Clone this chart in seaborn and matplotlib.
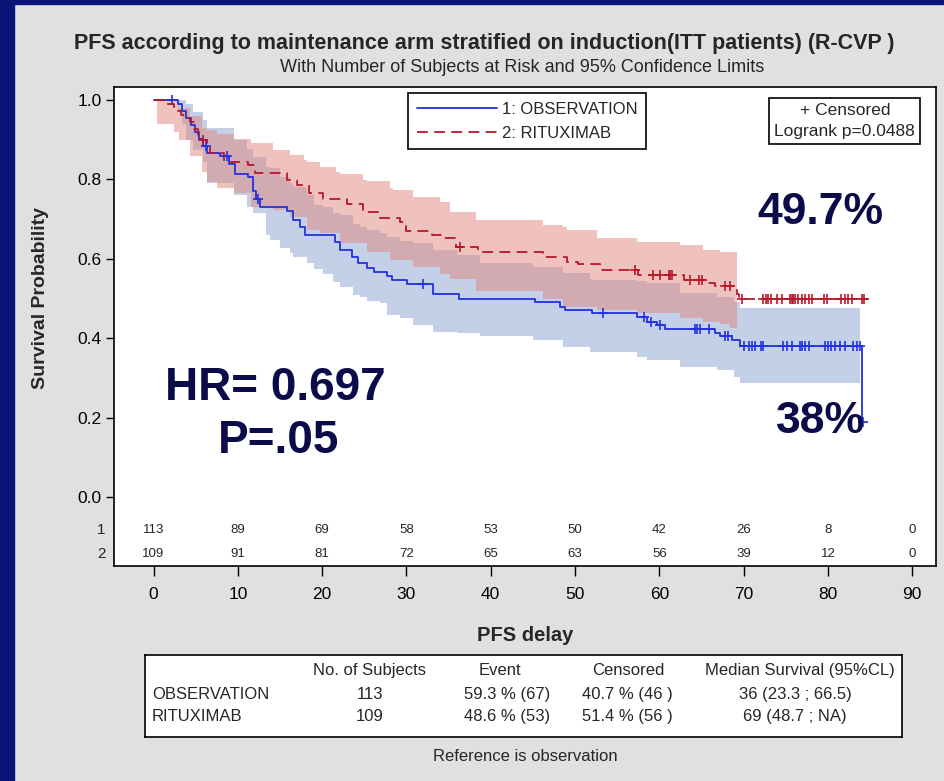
import numpy as np
import matplotlib
matplotlib.use("Agg")
import matplotlib.pyplot as plt
import seaborn as sns
from matplotlib.patches import Rectangle

# ---- data ----
obs_time = [0, 2.9, 3.4, 3.9, 4.4, 4.9, 5.4, 5.9, 6.3, 7.9, 8.9, 9.7, 11.2, 11.8, 12.2, 12.6,
            15.8, 16.6, 17.4, 18.0, 21.5, 22.1, 23.5, 24.3, 25.3, 26.1, 27.7, 28.3, 30.1, 33.2,
            36.2, 45.3, 48.2, 48.8, 52.0, 57.3, 58.5, 59.7, 60.7, 66.6, 67.2, 68.6, 69.6, 84.0, 84.3]
obs_surv = [1.0, 0.991, 0.973, 0.956, 0.938, 0.920, 0.902, 0.885, 0.867, 0.858, 0.840, 0.815, 0.806,
            0.770, 0.752, 0.730, 0.720, 0.699, 0.681, 0.660, 0.643, 0.622, 0.605, 0.590, 0.577, 0.568,
            0.558, 0.547, 0.537, 0.511, 0.500, 0.492, 0.479, 0.471, 0.463, 0.454, 0.442, 0.433, 0.422,
            0.413, 0.405, 0.396, 0.381, 0.190, 0.190]
obs_cens = [2.2, 6.2, 8.7, 12.4, 32.0, 53.3, 58.2, 59.0, 60.1, 64.2, 64.5, 64.8, 65.9, 67.8, 68.2,
            70.0, 70.6, 71.0, 71.4, 72.1, 72.3, 74.7, 75.1, 75.7, 76.7, 76.9, 77.3, 77.7, 79.7, 80.0,
            80.4, 80.8, 81.4, 82.0, 83.0, 83.4, 83.8, 84.2]

rit_time = [0, 1.6, 2.4, 2.9, 3.3, 3.8, 4.3, 4.8, 5.3, 5.8, 6.3, 6.7, 8.3, 11.2, 12.0, 15.8, 17.0,
            18.4, 20.1, 22.9, 24.9, 26.9, 29.2, 30.0, 33.0, 34.4, 35.9, 38.5, 46.2, 49.0, 50.4, 53.0,
            57.5, 62.9, 65.4, 66.6, 68.8, 69.2, 69.5, 84.8]
rit_surv = [1.0, 0.991, 0.982, 0.972, 0.963, 0.954, 0.945, 0.927, 0.909, 0.900, 0.881, 0.866, 0.845,
            0.836, 0.816, 0.798, 0.786, 0.765, 0.751, 0.739, 0.719, 0.704, 0.693, 0.670, 0.661, 0.652,
            0.631, 0.618, 0.605, 0.593, 0.588, 0.572, 0.559, 0.547, 0.538, 0.531, 0.522, 0.511, 0.500,
            0.500]
rit_cens = [5.9, 36.3, 57.1, 59.3, 60.1, 61.1, 61.3, 61.5, 63.6, 64.7, 65.1, 67.8, 68.4, 69.8,
            72.3, 72.7, 72.9, 73.3, 73.9, 74.5, 75.5, 75.7, 75.9, 76.1, 76.5, 76.9, 77.3, 77.7, 78.1,
            79.5, 79.9, 81.6, 82.0, 82.4, 82.8, 84.1, 84.3]

# 95% confidence limits (step functions)
obs_ci_t = [2.9, 3.4, 3.9, 4.7, 5.9, 6.3, 9.5, 11.1, 11.8, 13.4, 13.8, 15.0, 16.2, 16.6, 18.2, 19.0,
            20.1, 21.3, 22.1, 23.7, 24.5, 25.3, 26.9, 27.7, 29.2, 30.8, 33.2, 36.0, 38.7, 45.0, 48.6,
            51.8, 52.0, 57.3, 58.5, 62.5, 66.8, 68.8, 69.6, 83.8]
obs_ci_lo = [0.975, 0.94, 0.90, 0.874, 0.845, 0.790, 0.761, 0.73, 0.715, 0.66, 0.647, 0.627, 0.614,
             0.605, 0.589, 0.575, 0.563, 0.542, 0.530, 0.51, 0.505, 0.495, 0.488, 0.458, 0.45, 0.433,
             0.416, 0.413, 0.405, 0.395, 0.379, 0.366, 0.366, 0.353, 0.345, 0.328, 0.32, 0.303, 0.288,
             0.288]
obs_ci_hi = [1.0, 1.0, 0.99, 0.97, 0.95, 0.93, 0.899, 0.878, 0.857, 0.832, 0.83, 0.807, 0.79, 0.782,
             0.761, 0.735, 0.73, 0.715, 0.71, 0.689, 0.68, 0.672, 0.665, 0.656, 0.645, 0.639, 0.622,
             0.61, 0.59, 0.58, 0.564, 0.55, 0.547, 0.545, 0.539, 0.514, 0.504, 0.49, 0.477, 0.477]

rit_ci_t = [0.4, 2.4, 3.0, 4.3, 5.7, 6.3, 7.5, 9.5, 11.6, 14.2, 16.2, 17.8, 18.2, 19.8, 21.7, 22.1,
            24.9, 25.3, 28.1, 28.4, 30.8, 34.0, 35.2, 38.3, 46.2, 48.6, 49.0, 52.6, 57.3, 62.5, 65.2,
            67.2, 68.4, 69.2]
rit_ci_lo = [0.941, 0.920, 0.899, 0.86, 0.82, 0.794, 0.778, 0.765, 0.731, 0.723, 0.706, 0.706, 0.672,
             0.664, 0.664, 0.639, 0.639, 0.618, 0.597, 0.597, 0.580, 0.563, 0.55, 0.52, 0.50, 0.479,
             0.479, 0.47, 0.463, 0.45, 0.44, 0.435, 0.426, 0.426]
rit_ci_hi = [1.0, 1.0, 0.98, 0.96, 0.929, 0.925, 0.915, 0.903, 0.891, 0.875, 0.862, 0.849, 0.845,
             0.832, 0.819, 0.815, 0.798, 0.795, 0.778, 0.773, 0.756, 0.744, 0.719, 0.698, 0.685, 0.68,
             0.673, 0.652, 0.643, 0.635, 0.622, 0.618, 0.618, 0.618]

risk_times = [0, 10, 20, 30, 40, 50, 60, 70, 80, 90]
obs_risk = [113, 89, 69, 58, 53, 50, 42, 26, 8, 0]
rit_risk = [109, 91, 81, 72, 65, 63, 56, 39, 12, 0]

tab_header = ["No. of Subjects", "Event", "Censored", "Median Survival (95%CL)"]
tab_rows = ["OBSERVATION", "RITUXIMAB"]
tab_values = [["113", "59.3 % (67)", "40.7 % (46 )", "36 (23.3 ; 66.5)"],
              ["109", "48.6 % (53)", "51.4 % (56 )", "69 (48.7 ; NA)"]]

BLUE = "#2232dc"
RED = "#b8182a"
NAVY = "#0b0b4a"


def at(times, surv, t):
    i = np.searchsorted(times, t, side="right") - 1
    return np.asarray(surv)[i]


sns.set_theme(style="white")
plt.rcParams["font.family"] = ["Liberation Sans", "DejaVu Sans"]

fig = plt.figure(figsize=(9.45, 7.81), dpi=100, facecolor="#e0e0e0")
# dark blue slide border
fig.patches.append(Rectangle((0, 0), 14 / 945, 1, transform=fig.transFigure, color="#0a1478", zorder=0))
fig.patches.append(Rectangle((0, 1 - 4 / 781), 1, 4 / 781, transform=fig.transFigure, color="#0a1478", zorder=0))

ax = fig.add_axes([114 / 945, 1 - 566 / 781, 822 / 945, 479 / 781])
ax.set_facecolor("white")

# confidence bands
ax.fill_between(obs_ci_t, obs_ci_lo, obs_ci_hi, step="post", color="#c4d0e8", lw=0, zorder=1)
ax.fill_between(rit_ci_t, rit_ci_lo, rit_ci_hi, step="post", color="#e0877e", alpha=0.5, lw=0, zorder=2)

# survival curves
sns.lineplot(x=obs_time, y=obs_surv, drawstyle="steps-post", color=BLUE, lw=1.3,
             estimator=None, sort=False, label="1: OBSERVATION", ax=ax, zorder=4)
sns.lineplot(x=rit_time, y=rit_surv, drawstyle="steps-post", color=RED, lw=1.3,
             linestyle=(0, (6, 3.5)), estimator=None, sort=False, label="2: RITUXIMAB", ax=ax, zorder=4)

# censored marks
sns.scatterplot(x=obs_cens, y=at(obs_time, obs_surv, obs_cens), marker="+", s=55, color=BLUE,
                linewidth=1.2, legend=False, ax=ax, zorder=5)
sns.scatterplot(x=rit_cens, y=at(rit_time, rit_surv, rit_cens), marker="+", s=55, color=RED,
                linewidth=1.2, legend=False, ax=ax, zorder=5)

ax.set_xlim(-4.69, 92.82)
ax.set_ylim(-0.174, 1.033)
ax.set_xticks(risk_times)
ax.set_yticks([0, 0.2, 0.4, 0.6, 0.8, 1.0])
ax.set_yticklabels([f"{v:.1f}" for v in [0, 0.2, 0.4, 0.6, 0.8, 1.0]])
ax.tick_params(axis="x", direction="out", length=7, width=1, labelsize=12.5, pad=8, colors="black",
               bottom=True)
ax.tick_params(axis="y", direction="out", length=6, width=1, labelsize=12.5, pad=3, colors="black",
               left=True)
for s in ax.spines.values():
    s.set_color("black")
    s.set_linewidth(1.2)

ax.set_xlabel("PFS delay", fontsize=14.5, fontweight="bold")
ax.xaxis.set_label_coords(0.5, -0.125)
ax.set_ylabel("Survival Probability", fontsize=14, fontweight="bold")
ax.yaxis.set_label_coords(-0.079, 0.56)

# number at risk inside the axes
for t, a, b in zip(risk_times, obs_risk, rit_risk):
    ax.text(t, -0.083, str(a), ha="center", va="center", fontsize=9.5)
    ax.text(t, -0.144, str(b), ha="center", va="center", fontsize=9.5)
trans = matplotlib.transforms.blended_transform_factory(ax.transAxes, ax.transData)
ax.text(-0.01, -0.083, "1", ha="right", va="center", fontsize=11, transform=trans)
ax.text(-0.01, -0.144, "2", ha="right", va="center", fontsize=11, transform=trans)

# legend
handles, labels = ax.get_legend_handles_labels()
leg = ax.legend(handles, labels, loc="upper left", bbox_to_anchor=(0.358, 0.987), fontsize=12,
                frameon=True, fancybox=False, edgecolor="black", framealpha=1, handlelength=4.8,
                handletextpad=0.3, borderpad=0.5, labelspacing=0.55, borderaxespad=0)
leg.get_frame().set_linewidth(1.2)
leg.set_zorder(10)

ax.text(0.889, 0.929, "+ Censored\nLogrank p=0.0488", transform=ax.transAxes, ha="center",
        va="center", fontsize=12.5, multialignment="center", linespacing=1.45, zorder=10,
        bbox=dict(boxstyle="square,pad=0.3", fc="white", ec="black", lw=1.2))

# big annotations
ax.text(14.4, 0.275, "HR= 0.697", ha="center", va="center", fontsize=33, fontweight="bold", color=NAVY, zorder=8)
ax.text(14.8, 0.142, "P=.05", ha="center", va="center", fontsize=33, fontweight="bold", color=NAVY, zorder=8)
ax.text(79.1, 0.718, "49.7%", ha="center", va="center", fontsize=32, fontweight="bold", color=NAVY, zorder=8)
ax.text(79.1, 0.191, "38%", ha="center", va="center", fontsize=32, fontweight="bold", color=NAVY, zorder=8)

# titles
fig.text(0.512, 0.944, "PFS according to maintenance arm stratified on induction(ITT patients) (R-CVP )",
         ha="center", va="center", fontsize=15.5, fontweight="bold")
fig.text(0.552, 0.913, "With Number of Subjects at Risk and 95% Confidence Limits",
         ha="center", va="center", fontsize=13)

# summary table
tab = fig.add_axes([145 / 945, 1 - 737 / 781, 757 / 945, 82 / 781])
tab.set_facecolor("white")
tab.set_xticks([])
tab.set_yticks([])
for s in tab.spines.values():
    s.set_color("black")
    s.set_linewidth(1.2)
col_x = [0.297, 0.478, 0.637, 0.859]
head_x = [0.297, 0.469, 0.638, 0.865]
for x, h in zip(head_x, tab_header):
    tab.text(x, 0.817, h, ha="center", va="center", fontsize=12, transform=tab.transAxes)
for y, name, vals in zip([0.524, 0.256], tab_rows, tab_values):
    tab.text(0.009, y, name, ha="left", va="center", fontsize=12, transform=tab.transAxes)
    for x, v in zip(col_x, vals):
        tab.text(x, y, v, ha="center", va="center", fontsize=12, transform=tab.transAxes)

fig.text(0.556, 0.031, "Reference is observation", ha="center", va="center", fontsize=12)

fig.savefig("out.png", dpi=100, facecolor=fig.get_facecolor())
